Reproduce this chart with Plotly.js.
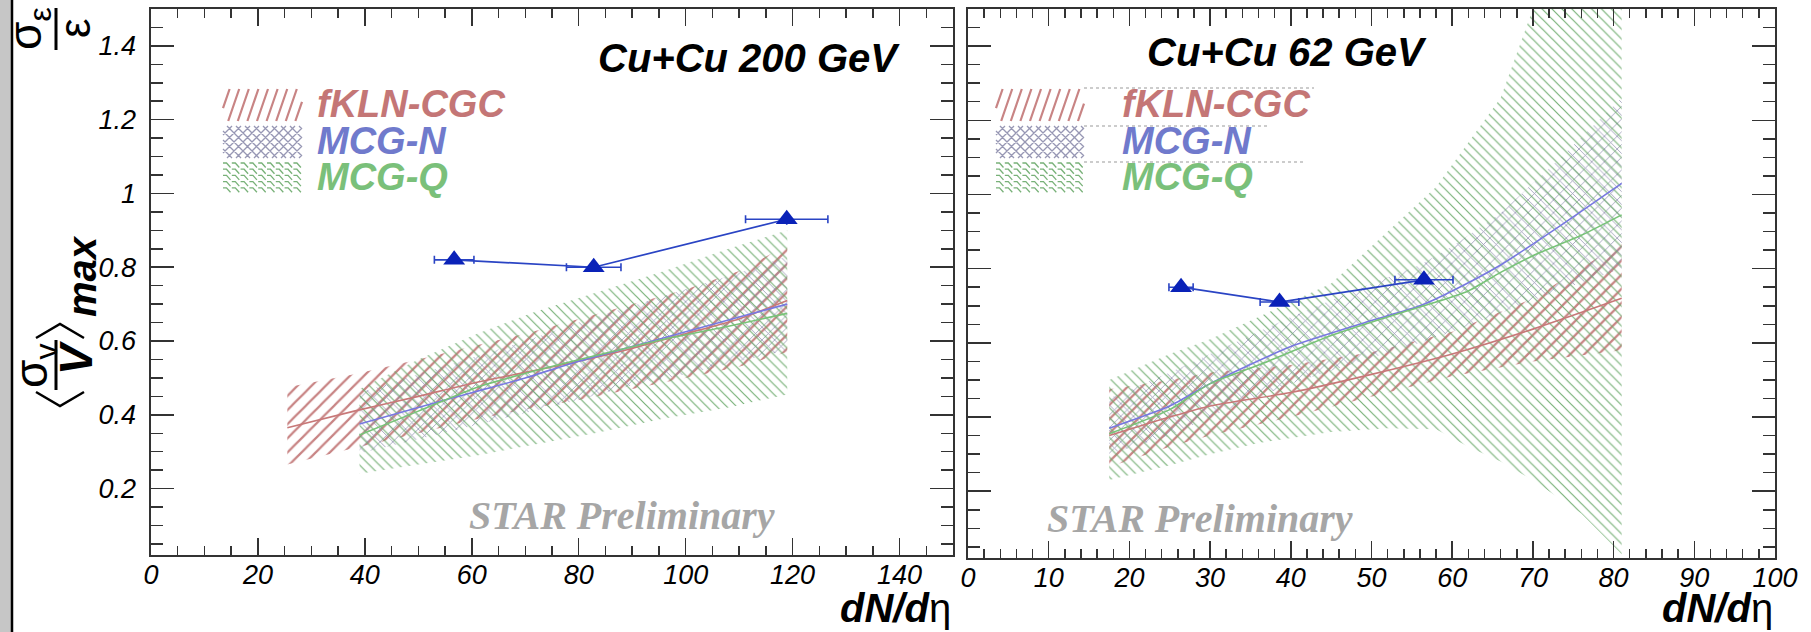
<!DOCTYPE html>
<html><head><meta charset="utf-8">
<script src="https://cdn.plot.ly/plotly-3.0.1.min.js"></script>
<style>html,body{margin:0;padding:0;background:#fff;}#chart{width:1811px;height:632px;}</style>
</head><body><div id="chart"></div>
<script>
// ===== Cu+Cu 200 GeV (left panel) =====
const kln200X   = [25.5, 38, 50, 60, 70, 80, 90, 100, 110, 119];
const kln200Mid = [0.365, 0.41, 0.45, 0.485, 0.515, 0.545, 0.58, 0.62, 0.66, 0.71];
const kln200Hi  = [0.475, 0.51, 0.55, 0.585, 0.62, 0.66, 0.70, 0.74, 0.79, 0.86];
const kln200Lo  = [0.265, 0.31, 0.35, 0.385, 0.415, 0.44, 0.47, 0.50, 0.53, 0.57];

const mcgn200X   = [39, 50, 60, 70, 80, 90, 100, 110, 119];
const mcgn200Mid = [0.375, 0.42, 0.46, 0.50, 0.545, 0.585, 0.625, 0.665, 0.70];
const mcgn200Hi  = [0.46, 0.51, 0.555, 0.60, 0.65, 0.695, 0.74, 0.785, 0.83];
const mcgn200Lo  = [0.295, 0.335, 0.37, 0.405, 0.44, 0.48, 0.51, 0.545, 0.575];

const mcgq200X   = [39, 50, 61, 72, 83, 96, 108, 119];
const mcgq200Mid = [0.345, 0.41, 0.475, 0.52, 0.56, 0.605, 0.64, 0.675];
const mcgq200Hi  = [0.47, 0.55, 0.62, 0.68, 0.73, 0.79, 0.85, 0.90];
const mcgq200Lo  = [0.24, 0.265, 0.29, 0.32, 0.35, 0.39, 0.42, 0.455];

const data200X    = [56.7, 82.8, 118.9];
const data200Y    = [0.82, 0.80, 0.93];
const data200XErr = [3.7, 5.1, 7.7];
const data200YErr = [0.005, 0.005, 0.015];

// ===== Cu+Cu 62 GeV (right panel) =====
const kln62X   = [17.5, 25, 30, 40, 50, 60, 70, 81];
const kln62Mid = [0.35, 0.40, 0.43, 0.466, 0.515, 0.57, 0.637, 0.72];
const kln62Hi  = [0.475, 0.50, 0.52, 0.54, 0.575, 0.63, 0.72, 0.87];
const kln62Lo  = [0.265, 0.32, 0.35, 0.40, 0.455, 0.51, 0.55, 0.58];

const mcgn62X   = [17.5, 25, 30, 40, 50, 56, 60, 66, 73, 81];
const mcgn62Mid = [0.37, 0.43, 0.49, 0.59, 0.66, 0.70, 0.74, 0.81, 0.91, 1.03];
const mcgn62Hi  = [0.45, 0.52, 0.57, 0.67, 0.76, 0.81, 0.86, 0.95, 1.09, 1.26];
const mcgn62Lo  = [0.30, 0.35, 0.40, 0.49, 0.56, 0.60, 0.63, 0.68, 0.74, 0.80];

const mcgq62X   = [17.5, 25, 30, 36, 45, 52, 58, 62, 66, 70, 76, 81];
const mcgq62Mid = [0.355, 0.42, 0.49, 0.54, 0.62, 0.67, 0.71, 0.74, 0.79, 0.835, 0.89, 0.945];
const mcgq62Hi  = [0.50, 0.57, 0.61, 0.67, 0.76, 0.90, 1.02, 1.14, 1.26, 1.50, 1.70, 1.85];
const mcgq62Lo  = [0.23, 0.27, 0.30, 0.33, 0.36, 0.37, 0.367, 0.32, 0.28, 0.23, 0.14, 0.03];

const data62X    = [26.4, 38.6, 56.5];
const data62Y    = [0.75, 0.71, 0.77];
const data62XErr = [1.5, 2.4, 3.6];
const data62YErr = [0.005, 0.005, 0.005];

// ===== text =====
const modelNames = ['fKLN-CGC', 'MCG-N', 'MCG-Q'];
const panelTitles = ['Cu+Cu 200 GeV', 'Cu+Cu 62 GeV'];
const watermark = 'STAR Preliminary';

// ===== styles =====
const W = 1811, H = 632;
const SANS = 'Liberation Sans, Arial, Helvetica, sans-serif';
const SERIF = 'Liberation Serif, Times New Roman, serif';
const C_RED = 'rgba(190,110,110,0.85)', C_GRAY = 'rgba(140,140,172,0.9)', C_GREEN = 'rgba(105,168,105,0.9)';
const L_RED = 'rgb(200,120,120)', L_BLUE = 'rgb(120,120,225)', L_GREEN = 'rgb(120,195,120)';
const T_RED = 'rgb(196,118,118)', T_BLUE = 'rgb(112,122,204)', T_GREEN = 'rgb(122,192,122)';
const DATA_C = '#0a22b8';

const patRed   = {shape: '/', size: 10, solidity: 0.22, fgcolor: C_RED, bgcolor: 'rgba(0,0,0,0)', fgopacity: 1};
const patGray  = {shape: 'x', size: 9, solidity: 0.17, fgcolor: C_GRAY, bgcolor: 'rgba(0,0,0,0)', fgopacity: 1};
const patGreen = {shape: '\\', size: 7, solidity: 0.17, fgcolor: C_GREEN, bgcolor: 'rgba(0,0,0,0)', fgopacity: 1};

function band(xs, lo, hi, pat, xa, ya) {
  return {x: xs.concat(xs.slice().reverse()), y: hi.concat(lo.slice().reverse()),
    type: 'scatter', mode: 'lines', fill: 'toself', line: {width: 0, color: 'rgba(0,0,0,0)'},
    fillcolor: 'rgba(0,0,0,0)', fillpattern: pat, xaxis: xa, yaxis: ya, hoverinfo: 'skip', showlegend: false};
}
function midLine(xs, ys, col, xa, ya) {
  return {x: xs, y: ys, type: 'scatter', mode: 'lines', line: {color: col, width: 1.6, shape: 'spline', smoothing: 0.6},
    xaxis: xa, yaxis: ya, hoverinfo: 'skip', showlegend: false};
}
function pts(xs, ys, xe, ye, xa, ya) {
  return {x: xs, y: ys, type: 'scatter', mode: 'lines+markers',
    line: {color: '#2a44c4', width: 1.7},
    marker: {symbol: 'triangle-up', size: 19, color: DATA_C},
    error_x: {type: 'data', array: xe, color: '#2a44c4', thickness: 1.6, width: 4},
    error_y: {type: 'data', array: ye, color: '#2a44c4', thickness: 1.6, width: 0},
    xaxis: xa, yaxis: ya, showlegend: false};
}

const traces = [
  band(kln200X, kln200Lo, kln200Hi, patRed, 'x', 'y'),
  band(mcgn200X, mcgn200Lo, mcgn200Hi, patGray, 'x', 'y'),
  band(mcgq200X, mcgq200Lo, mcgq200Hi, patGreen, 'x', 'y'),
  midLine(kln200X, kln200Mid, L_RED, 'x', 'y'),
  midLine(mcgn200X, mcgn200Mid, L_BLUE, 'x', 'y'),
  midLine(mcgq200X, mcgq200Mid, L_GREEN, 'x', 'y'),
  pts(data200X, data200Y, data200XErr, data200YErr, 'x', 'y'),

  band(kln62X, kln62Lo, kln62Hi, patRed, 'x2', 'y2'),
  band(mcgn62X, mcgn62Lo, mcgn62Hi, patGray, 'x2', 'y2'),
  band(mcgq62X, mcgq62Lo, mcgq62Hi, patGreen, 'x2', 'y2'),
  midLine(kln62X, kln62Mid, L_RED, 'x2', 'y2'),
  midLine(mcgn62X, mcgn62Mid, L_BLUE, 'x2', 'y2'),
  midLine(mcgq62X, mcgq62Mid, L_GREEN, 'x2', 'y2'),
  pts(data62X, data62Y, data62XErr, data62YErr, 'x2', 'y2')
];

// ===== pixel helpers (paper coords) =====
const PX = x => x / W, PY = y => 1 - y / H;
const P = (x, y) => PX(x).toFixed(5) + ',' + PY(y).toFixed(5);

const TICKFONT = {family: 'Liberation Sans', size: 27, color: '#000', style: 'italic'};
function axisBase(extra) {
  return Object.assign({
    showline: true, linecolor: '#333', linewidth: 1.6, mirror: 'allticks',
    ticks: 'inside', tickwidth: 1.5, tickcolor: '#333', showgrid: false, zeroline: false,
    tickmode: 'linear', tick0: 0
  }, extra);
}

const layout = {
  width: W, height: H, margin: {l: 0, r: 0, t: 0, b: 0}, paper_bgcolor: '#fff', plot_bgcolor: '#fff',
  showlegend: false,
  font: {family: 'Liberation Sans', size: 27, color: '#000'},
  xaxis: axisBase({domain: [PX(151), PX(953)], range: [0, 150], dtick: 20, ticklen: 17, anchor: 'y', tickfont: TICKFONT,
    ticklabelstandoff: -5,
    minor: {ticks: 'inside', dtick: 5, tick0: 0, ticklen: 9, tickwidth: 1.5, tickcolor: '#333', showgrid: false}}),
  yaxis: axisBase({domain: [PY(555), PY(9)], range: [0.02, 1.5], dtick: 0.2, ticklen: 23, anchor: 'x', tickfont: TICKFONT,
    ticklabelstandoff: 8,
    minor: {ticks: 'inside', dtick: 0.05, tick0: 0, ticklen: 12, tickwidth: 1.5, tickcolor: '#333', showgrid: false}}),
  xaxis2: axisBase({domain: [PX(968), PX(1775)], range: [0, 100], dtick: 10, ticklen: 17, anchor: 'y2', tickfont: TICKFONT,
    ticklabelstandoff: -5,
    minor: {ticks: 'inside', dtick: 2, tick0: 0, ticklen: 9, tickwidth: 1.5, tickcolor: '#333', showgrid: false}}),
  yaxis2: axisBase({domain: [PY(558), PY(9)], range: [0.02, 1.5], dtick: 0.2, ticklen: 23, anchor: 'x2', showticklabels: false,
    minor: {ticks: 'inside', dtick: 0.05, tick0: 0, ticklen: 12, tickwidth: 1.5, tickcolor: '#333', showgrid: false}}),
  shapes: [], annotations: []
};

function ann(text, x, y, o) {
  layout.annotations.push(Object.assign({text: text, x: PX(x), y: PY(y), xref: 'paper', yref: 'paper',
    showarrow: false, xanchor: 'center', yanchor: 'middle'}, o));
}
function line(x0, y0, x1, y1, col, w, dash) {
  layout.shapes.push({type: 'line', xref: 'paper', yref: 'paper', x0: PX(x0), y0: PY(y0), x1: PX(x1), y1: PY(y1),
    line: {color: col, width: w, dash: dash || 'solid'}});
}
function path(d, col, w) {
  layout.shapes.push({type: 'path', xref: 'paper', yref: 'paper', path: d, line: {color: col, width: w}});
}
// clip segment to rect (Liang-Barsky)
function clipSeg(x0, y0, x1, y1, r) {
  let t0 = 0, t1 = 1; const dx = x1 - x0, dy = y1 - y0;
  const p = [-dx, dx, -dy, dy], q = [x0 - r.x0, r.x1 - x0, y0 - r.y0, r.y1 - y0];
  for (let i = 0; i < 4; i++) {
    if (p[i] === 0) { if (q[i] < 0) return null; }
    else { const t = q[i] / p[i]; if (p[i] < 0) { if (t > t1) return null; if (t > t0) t0 = t; } else { if (t < t0) return null; if (t < t1) t1 = t; } }
  }
  return [x0 + t0 * dx, y0 + t0 * dy, x0 + t1 * dx, y0 + t1 * dy];
}
function hatchBox(r, kind) {
  let d = '';
  if (kind === 'red') {
    for (let x = r.x0 - 14; x < r.x1 + 2; x += 9.6) {
      const s = clipSeg(x, r.y1 - 1, x + 11, r.y0 + 1, r); if (s) d += 'M' + P(s[0], s[1]) + ' L' + P(s[2], s[3]) + ' ';
    }
    path(d, C_RED, 2.2);
  } else if (kind === 'gray') {
    const h = r.y1 - r.y0;
    for (let x = r.x0 - h; x < r.x1 + h; x += 9) {
      let s = clipSeg(x, r.y1, x + h, r.y0, r); if (s) d += 'M' + P(s[0], s[1]) + ' L' + P(s[2], s[3]) + ' ';
      s = clipSeg(x, r.y0, x + h, r.y1, r); if (s) d += 'M' + P(s[0], s[1]) + ' L' + P(s[2], s[3]) + ' ';
    }
    path(d, C_GRAY, 1.3);
  } else {
    for (let y = r.y0 + 1; y < r.y1 - 3; y += 6.2) {
      for (let x = r.x0; x < r.x1 - 7; x += 8.8) {
        d += 'M' + P(x, y) + ' L' + P(x + 3.5, y) + ' L' + P(x + 7.5, y + 4.5) + ' ';
      }
    }
    path(d, C_GREEN, 1.3);
  }
}

// left gray strip of the page
layout.shapes.push({type: 'rect', xref: 'paper', yref: 'paper', x0: 0, x1: PX(11), y0: 0, y1: 1, fillcolor: '#c6c6c6', line: {width: 0}});
line(12, 0, 12, 632, '#000', 2.5);

// legends
const legRows = [[88, 122, 'red', T_RED], [126, 158, 'gray', T_BLUE], [162, 193, 'green', T_GREEN]];
const legPanels = [{bx0: 223, bx1: 302, tx: 315, dots: null}, {bx0: 996, bx1: 1084, tx: 1120, dots: [1314, 1270, 1305]}];
legPanels.forEach(pn => {
  legRows.forEach((row, i) => {
    hatchBox({x0: pn.bx0, x1: pn.bx1, y0: row[0], y1: row[1]}, row[2]);
    ann(modelNames[i], pn.tx, (row[0] + row[1]) / 2 - 1, {xanchor: 'left',
      font: {family: SANS, size: 38, color: row[3], weight: 'bold', style: 'italic'}});
    if (pn.dots) line(pn.bx1, row[0], pn.dots[i], row[0], '#9a9a9a', 1.2, 'dot');
  });
});

// panel titles
ann(panelTitles[0], 749, 58, {font: {family: SANS, size: 40, color: '#000', weight: 'bold', style: 'italic'}});
ann(panelTitles[1], 1287, 52, {font: {family: SANS, size: 40, color: '#000', weight: 'bold', style: 'italic'}});
// watermark
ann(watermark, 622, 515, {font: {family: SERIF, size: 40, color: '#a6a6a6', weight: 'bold', style: 'italic'}});
ann(watermark, 1200, 518, {font: {family: SERIF, size: 40, color: '#a6a6a6', weight: 'bold', style: 'italic'}});
// x titles
[[953, 632], [1775, 632]].forEach(p => ann('<b><i>dN/d</i></b>η', p[0], p[1], {xanchor: 'right', yanchor: 'bottom',
  font: {family: SANS, size: 40, color: '#000'}}));

// y title: sigma_eps / eps  and <sigma_v / V>_max (rotated)
const rot = {textangle: -90};
ann('σ<sub>ε</sub>', 28, 29, Object.assign({font: {family: SANS, size: 46, color: '#000'}}, rot));
ann('ε', 74, 28, Object.assign({font: {family: SANS, size: 44, color: '#000'}}, rot));
line(56, 8, 56, 50, '#000', 3);
ann('σ<sub>v</sub>', 34, 366, Object.assign({font: {family: SANS, size: 46, color: '#000'}}, rot));
ann('<b><i>V</i></b>', 76, 358, Object.assign({font: {family: SANS, size: 46, color: '#000'}}, rot));
line(56, 340, 56, 390, '#000', 3);
path('M' + P(36, 338) + ' L' + P(60, 324) + ' L' + P(84, 338), '#000', 2.5);
path('M' + P(36, 392) + ' L' + P(60, 406) + ' L' + P(84, 392), '#000', 2.5);
ann('<b><i>max</i></b>', 82, 276, Object.assign({font: {family: SANS, size: 40, color: '#000'}}, rot));

Plotly.newPlot('chart', traces, layout, {staticPlot: true, displayModeBar: false});
</script>
</body></html>
